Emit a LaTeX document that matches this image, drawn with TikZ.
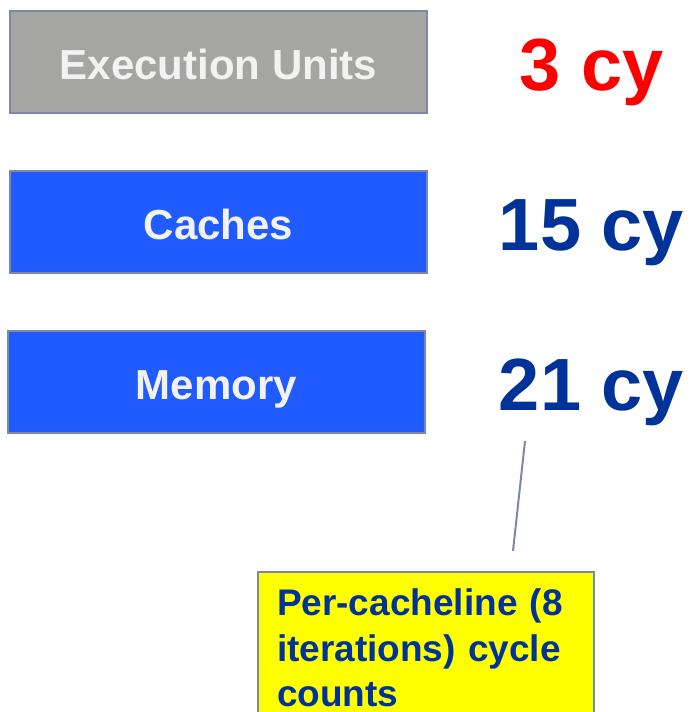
\documentclass[tikz,border=0pt]{standalone}
\usepackage{fontspec}
\setmainfont{Liberation Sans}
\definecolor{edge}{RGB}{125,136,166}
\definecolor{unitgray}{RGB}{165,166,164}
\definecolor{unitblue}{RGB}{31,91,255}
\definecolor{boxtext}{RGB}{242,242,242}
\definecolor{navy}{RGB}{0,51,153}
\definecolor{hotred}{RGB}{255,0,0}
\definecolor{notefill}{RGB}{255,255,0}
\tikzset{
  unit/.style={draw=edge, line width=2pt, minimum width=417pt, minimum height=102pt,
    inner sep=0pt, text=boxtext, text height=35pt, text depth=0pt,
    font=\bfseries\fontsize{42}{50}\selectfont},
  cycles/.style={anchor=base, inner sep=0pt, font=\bfseries\fontsize{74}{80}\selectfont},
  note/.style={draw=edge, line width=2pt, fill=notefill, anchor=north west,
    inner xsep=19pt, inner ysep=17pt, text width=298pt, align=left, text=navy,
    font=\bfseries\fontsize{37}{45.5}\selectfont},
  leader/.style={draw=edge, line width=2pt}
}
\begin{document}
\begin{tikzpicture}[x=1pt, y=-1pt]
  \useasboundingbox (0,0) rectangle (689,712);
  % hierarchy boxes
  \node[unit, fill=unitgray] (exec) at (218.5,62) {Execution Units};
  \node[unit, fill=unitblue] (cache) at (218.5,222) {Caches};
  \node[unit, fill=unitblue] (mem) at (216.5,382) {Memory};
  % cycle counts
  \node[cycles, text=hotred] (cy3) at (591.5,90) {3 cy};
  \node[cycles, text=navy] (cy15) at (591.5,250) {15 cy};
  \node[cycles, text=navy] (cy21) at (591.5,410) {21 cy};
  % annotation
  \node[note] (memo) at (257,571) {Per-cacheline (8 iterations) cycle counts};
  \coordinate (leadtop) at (525,441);
  \coordinate (leadbot) at (513,551);
  \draw[leader] (leadtop) -- (leadbot);
\end{tikzpicture}
\end{document}
